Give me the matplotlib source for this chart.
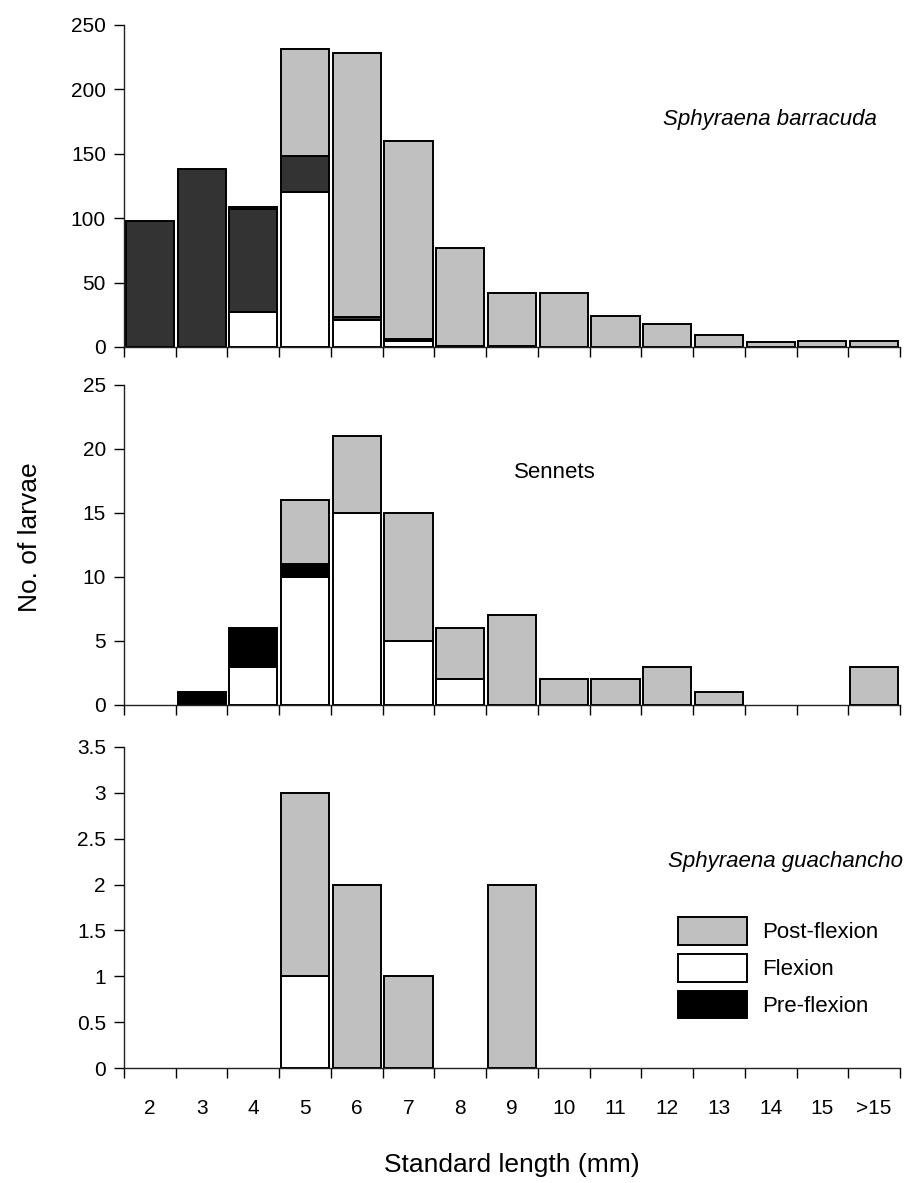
import matplotlib
matplotlib.use("Agg")
import matplotlib.pyplot as plt
from matplotlib.patches import Patch
import numpy as np

plt.rcParams['font.family'] = ['Liberation Sans', 'DejaVu Sans']

categories = ["2", "3", "4", "5", "6", "7", "8", "9", "10", "11", "12", "13", "14", "15", ">15"]

# Sphyraena barracuda
barr_pre = [98, 138, 80, 28, 2, 1, 1, 1, 0, 0, 0, 0, 0, 0, 0]
barr_flex = [0, 0, 27, 120, 21, 5, 0, 0, 0, 0, 0, 0, 0, 0, 0]
barr_post = [0, 0, 2, 83, 205, 154, 76, 41, 42, 24, 18, 9, 4, 5, 5]

# Sennets
senn_pre = [0, 1, 3, 1, 0, 0, 0, 0, 0, 0, 0, 0, 0, 0, 0]
senn_flex = [0, 0, 3, 10, 15, 5, 2, 0, 0, 0, 0, 0, 0, 0, 0]
senn_post = [0, 0, 0, 5, 6, 10, 4, 7, 2, 2, 3, 1, 0, 0, 3]

# Sphyraena guachancho
guac_pre = [0] * 15
guac_flex = [0, 0, 0, 1, 0, 0, 0, 0, 0, 0, 0, 0, 0, 0, 0]
guac_post = [0, 0, 0, 2, 2, 1, 0, 2, 0, 0, 0, 0, 0, 0, 0]

W, H = 907, 1183
fig = plt.figure(figsize=(W / 100, H / 100), dpi=100)

def ax_px(left, right, top, bottom):
    return fig.add_axes([left / W, 1 - bottom / H, (right - left) / W, (bottom - top) / H])

x = np.arange(len(categories))
bw = 0.93
POST = '#c0c0c0'
FLEX = '#ffffff'
TICKFS = 15

def draw(ax, pre, flex, post, precol, ymax, step, fmt):
    pre = np.array(pre, float); flex = np.array(flex, float); post = np.array(post, float)
    kw = dict(width=bw, edgecolor='black', linewidth=1.4)
    m = flex > 0
    ax.bar(x[m], flex[m], color=FLEX, **kw)
    m = pre > 0
    ax.bar(x[m], pre[m], bottom=flex[m], color=precol, **kw)
    m = post > 0
    ax.bar(x[m], post[m], bottom=(flex + pre)[m], color=POST, **kw)
    ax.set_xlim(-0.5, len(categories) - 0.5)
    ax.set_ylim(0, ymax)
    ticks = np.arange(0, ymax + step / 2, step)
    ax.set_yticks(ticks)
    ax.set_yticklabels([fmt(t) for t in ticks], fontsize=TICKFS)
    for s in ['top', 'right']:
        ax.spines[s].set_visible(False)
    for s in ['left', 'bottom']:
        ax.spines[s].set_linewidth(1.0)
        ax.spines[s].set_color('#222222')
    ax.set_xticks(np.arange(-0.5, len(categories)), minor=True)
    ax.set_xticks(x)
    ax.tick_params(axis='x', which='major', length=0, labelsize=TICKFS, pad=22)
    ax.tick_params(axis='x', which='minor', length=7, direction='out', width=1.0)
    ax.tick_params(axis='y', length=7, direction='out', width=1.0, pad=6)

ax1 = ax_px(124, 900, 25, 347)
draw(ax1, barr_pre, barr_flex, barr_post, '#333333', 250, 50, lambda t: f"{int(t)}")
ax1.set_xticklabels([])

ax2 = ax_px(124, 900, 385, 705)
draw(ax2, senn_pre, senn_flex, senn_post, '#000000', 25, 5, lambda t: f"{int(t)}")
ax2.set_xticklabels([])

ax3 = ax_px(124, 900, 747, 1068)
draw(ax3, guac_pre, guac_flex, guac_post, '#000000', 3.5, 0.5, lambda t: f"{t:g}")
ax3.set_xticklabels(categories)

fig.text(770 / W, 1 - 120 / H, "Sphyraena barracuda", fontsize=16, style='italic', ha='center', va='center')
fig.text(555 / W, 1 - 472 / H, "Sennets", fontsize=16, ha='center', va='center')
fig.text(903 / W, 1 - 861 / H, "Sphyraena guachancho", fontsize=16, style='italic', ha='right', va='center')

fig.text(30 / W, 1 - 537 / H, "No. of larvae", fontsize=19, rotation=90, ha='center', va='center')
fig.text(512 / W, 1 - 1165 / H, "Standard length (mm)", fontsize=19, ha='center', va='center')

handles = [Patch(facecolor=POST, edgecolor='black', linewidth=1.4, label='Post-flexion'),
           Patch(facecolor=FLEX, edgecolor='black', linewidth=1.4, label='Flexion'),
           Patch(facecolor='#000000', edgecolor='black', linewidth=1.4, label='Pre-flexion')]
fig.legend(handles=handles, loc='upper left', bbox_to_anchor=(667 / W, 1 - 906 / H),
           frameon=False, fontsize=16, handlelength=3.1, handleheight=1.55,
           labelspacing=0.4, handletextpad=0.7, borderpad=0)

fig.savefig("out.png", dpi=100)
